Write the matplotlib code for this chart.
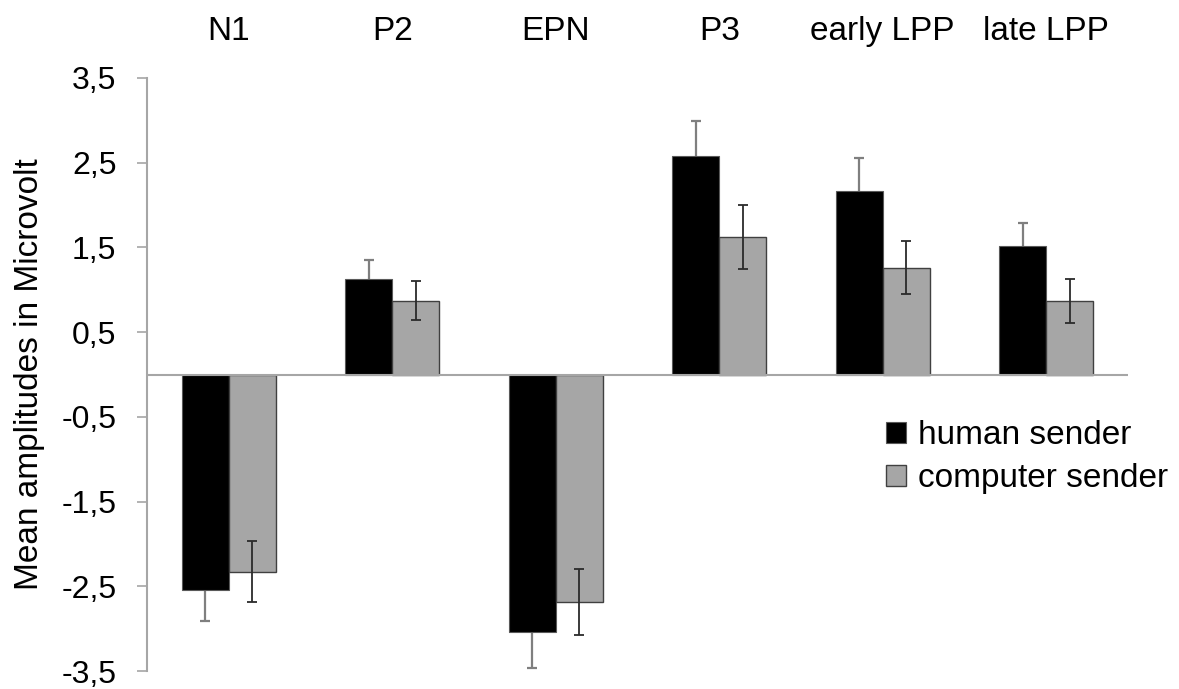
import numpy as np
import matplotlib.pyplot as plt

plt.rcParams['font.family'] = ['Liberation Sans', 'DejaVu Sans']

components = ['N1', 'P2', 'EPN', 'P3', 'early LPP', 'late LPP']
human = [-2.54, 1.13, -3.04, 2.58, 2.17, 1.52]
human_err = [0.37, 0.22, 0.42, 0.41, 0.39, 0.27]
computer = [-2.33, 0.87, -2.68, 1.62, 1.26, 0.87]
computer_err = [0.36, 0.23, 0.39, 0.38, 0.31, 0.26]
yticks = [-3.5, -2.5, -1.5, -0.5, 0.5, 1.5, 2.5, 3.5]

fig = plt.figure(figsize=(11.79, 6.89), dpi=100)
ax = fig.add_axes([0.1247, 0.0261, 0.8320, 0.8607])

x = np.arange(len(components))
w = 0.287
axis_grey = '#a6a6a6'

# error bars for human sit behind the black bars so only the outer half shows
ax.errorbar(x - w / 2, human, yerr=human_err, fmt='none', ecolor='#7f7f7f',
            elinewidth=1.6, capsize=3.6, capthick=1.6, zorder=1)
ax.bar(x - w / 2, human, w, color='black', edgecolor='#595959', linewidth=0.8,
       label='human sender', zorder=2)
ax.bar(x + w / 2, computer, w, color='#a6a6a6', edgecolor='#404040', linewidth=1.0,
       label='computer sender', zorder=2)
ax.errorbar(x + w / 2, computer, yerr=computer_err, fmt='none', ecolor='#2b2b2b',
            elinewidth=1.3, capsize=3.6, capthick=1.3, zorder=3)

ax.axhline(0, color=axis_grey, linewidth=1.5, zorder=4)

ax.set_xlim(-0.5, len(components) - 0.5)
ax.set_ylim(-3.5, 3.5)
ax.set_xticks([])
ax.set_yticks(yticks)
ax.set_yticklabels([('%.1f' % v).replace('.', ',') for v in yticks], fontsize=23)
ax.tick_params(axis='y', direction='out', length=7, width=1.2, color=axis_grey, pad=15)

for side in ['top', 'right', 'bottom']:
    ax.spines[side].set_visible(False)
ax.spines['left'].set_color(axis_grey)
ax.spines['left'].set_linewidth(1.5)

for xi, name in zip(x, components):
    ax.text(xi, 1.078, name, transform=ax.get_xaxis_transform(),
            ha='center', va='center', fontsize=24)

ax.set_ylabel('Mean amplitudes in Microvolt', fontsize=24, labelpad=12)

ax.legend(loc='upper left', bbox_to_anchor=(0.74, 0.445), frameon=False,
          fontsize=24, handlelength=0.6, handleheight=0.6, handletextpad=0.35,
          labelspacing=0.35, borderaxespad=0)

fig.savefig('out.png', dpi=100)
